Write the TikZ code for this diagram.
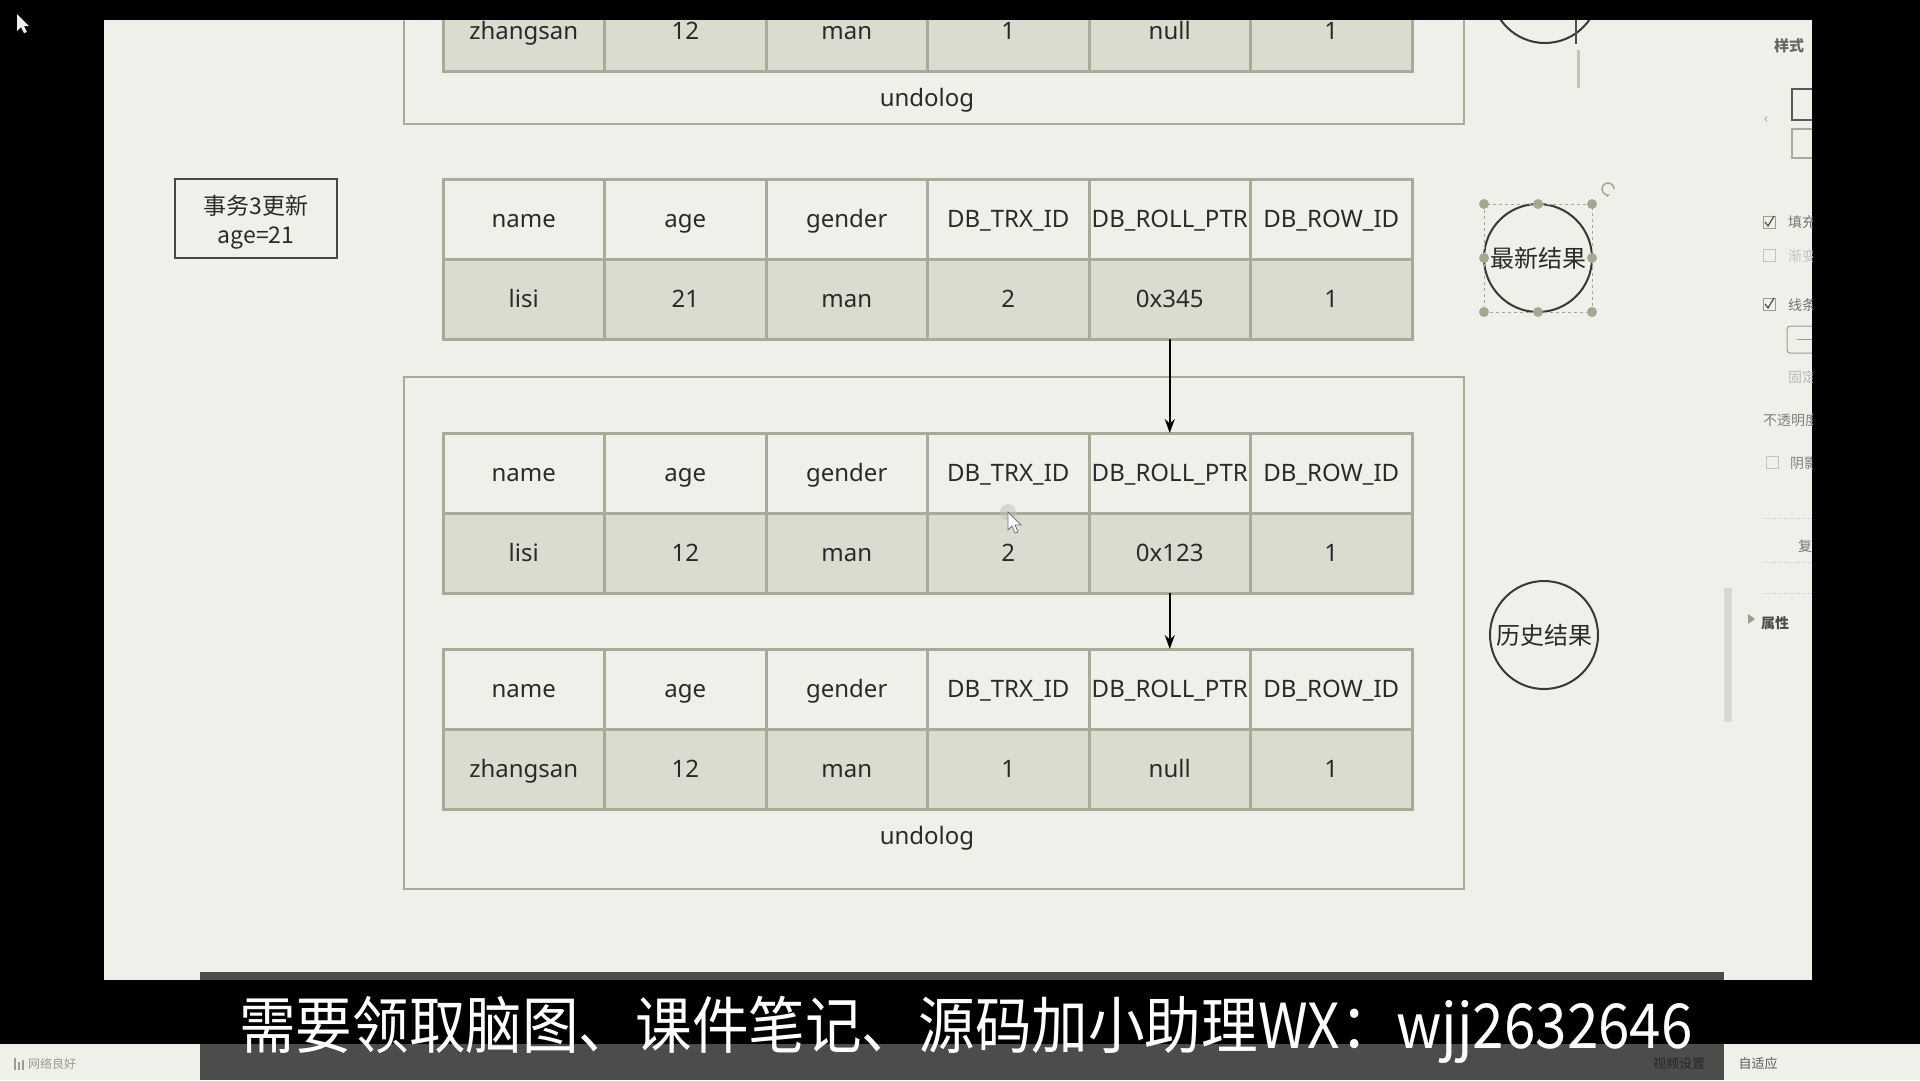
\documentclass[tikz,border=0pt]{standalone}
\usepackage{fontspec}
\setmainfont{Noto Sans}
\newfontfamily\cjk{Noto Sans CJK SC}
\usetikzlibrary{arrows.meta,shapes.geometric}
\definecolor{canvas}{HTML}{EEF1EA}
\definecolor{gridc}{HTML}{A7AB97}
\definecolor{datc}{HTML}{DADCD0}
\definecolor{txtc}{HTML}{2A2A2A}
\definecolor{handlec}{HTML}{A3A892}
\definecolor{uic}{HTML}{9A9E8C}
\begin{document}
\begin{tikzpicture}[x=1pt,y=-1pt,
  cell/.style={draw=gridc, line width=3pt, minimum width=161.5pt, minimum height=80pt,
    inner sep=0pt, outer sep=0pt, text=txtc, font=\fontsize{24}{28}\selectfont,
    text height=17pt, text depth=0pt},
  hd/.style={cell, fill=canvas},
  dt/.style={cell, fill=datc},
  logbox/.style={draw=gridc, line width=2.5pt, inner sep=0pt, outer sep=0pt},
  loglabel/.style={text=txtc, font=\fontsize{24}{28}\selectfont, text height=17pt, text depth=0pt},
  ring/.style={circle, draw=black!78, line width=2pt, minimum size=108pt, inner sep=0pt,
    text=txtc, font=\cjk\fontsize{24}{28}\selectfont},
  link/.style={-{Stealth[length=14pt,width=10pt]}, line width=2pt, black},
  uitext/.style={text=uic, font=\cjk\fontsize{14}{16}\selectfont, anchor=west, inner sep=0pt},
  chk/.style={draw=uic, line width=1pt, fill=canvas}
]
\useasboundingbox (0,0) rectangle (1920,1080);
% screen background
\fill[black] (0,0) rectangle (1920,1080);
\fill[canvas] (104,20) rectangle (1812,980);
\fill[canvas] (0,1044) rectangle (1920,1080);

\begin{scope}
\clip (104,20) rectangle (1812,980);
% top (scrolled) undolog box
\draw[logbox] (404,-300) rectangle (1464,124);
\foreach \t [count=\i] in {zhangsan,12,man,1,null,1}
  \node[dt] (a\i) at ({443+161.5*(\i-0.5)},31) {\t};
\node[loglabel] (toplab) at (927,98) {undolog};
% partial circle at top right
\draw[black!78, line width=2pt] (1545,-11) circle (54pt);
\draw[black!70, line width=2.5pt] (1576,20) -- (1576,44);
\draw[gridc!70, line width=3pt] (1578,50) -- (1578,88);
% right UI panel fragments
\node[uitext, text=black!60, font=\cjk\bfseries\fontsize{15}{16}\selectfont] (ui1) at (1774,46) {样式};
\draw[black!65, line width=2pt] (1792,89) rectangle (1830,120);
\draw[gridc, line width=2pt] (1792,129) rectangle (1830,158);
\node[uitext] (ui2) at (1764,120) {‹};
\draw[chk] (1763,216) rectangle (1775,228);
\draw[black!70, line width=1.2pt] (1765,222) -- (1768,226) -- (1774,216);
\node[uitext, text=black!55] (ui3) at (1788,222) {填充};
\draw[chk, draw=uic!60] (1763,249) rectangle (1775,261);
\node[uitext, text=uic!60] (ui4) at (1788,256) {渐变};
\draw[chk] (1763,298) rectangle (1775,310);
\draw[black!70, line width=1.2pt] (1765,304) -- (1768,308) -- (1774,298);
\node[uitext, text=black!55] (ui5) at (1788,305) {线条};
\draw[uic, line width=1pt, rounded corners=3pt] (1787,326) rectangle (1830,353);
\draw[uic, line width=1pt] (1797,339) -- (1812,339);
\node[uitext, text=uic!70] (ui6) at (1788,377) {固定};
\node[uitext, text=black!50] (ui7) at (1763,420) {不透明度};
\draw[chk, draw=uic!60] (1766,456) rectangle (1778,468);
\node[uitext, text=black!50] (ui8) at (1790,463) {阴影};
\draw[uic!70, dotted, line width=1pt] (1763,518) -- (1830,518);
\draw[uic!70, dotted, line width=1pt] (1763,562) -- (1830,562);
\draw[uic!70, dotted, line width=1pt] (1763,593) -- (1830,593);
\node[uitext, text=black!55] (ui9) at (1798,546) {复};
\fill[uic] (1748,614) -- (1755,619) -- (1748,624) -- cycle;
\node[uitext, text=black!70, font=\cjk\bfseries\fontsize{14}{16}\selectfont] (ui10) at (1761,623) {属性};
\fill[gridc!45] (1724,588) rectangle (1732,722);
\end{scope}

% current record
\foreach \t [count=\i] in {name,age,gender,DB\_TRX\_ID,DB\_ROLL\_PTR,DB\_ROW\_ID}
  \node[hd] (bh\i) at ({443+161.5*(\i-0.5)},219) {\t};
\foreach \t [count=\i] in {lisi,21,man,2,0x345,1}
  \node[dt] (bd\i) at ({443+161.5*(\i-0.5)},299) {\t};

% transaction note
\node[draw=black!72, line width=2.5pt, fill=canvas, minimum width=162pt, minimum height=79pt,
  inner sep=0pt, align=center, text=txtc, font=\cjk\fontsize{23}{29}\selectfont,
  text height=54pt, text depth=5pt] (tx) at (256,218.5)
  {事务3更新\\age=21};

% undolog box
\node[logbox, minimum width=1060pt, minimum height=512pt] (undo) at (934,633) {};
\foreach \t [count=\i] in {name,age,gender,DB\_TRX\_ID,DB\_ROLL\_PTR,DB\_ROW\_ID}
  \node[hd] (ch\i) at ({443+161.5*(\i-0.5)},473) {\t};
\foreach \t [count=\i] in {lisi,12,man,2,0x123,1}
  \node[dt] (cd\i) at ({443+161.5*(\i-0.5)},553) {\t};
\foreach \t [count=\i] in {name,age,gender,DB\_TRX\_ID,DB\_ROLL\_PTR,DB\_ROW\_ID}
  \node[hd] (dh\i) at ({443+161.5*(\i-0.5)},689) {\t};
\foreach \t [count=\i] in {zhangsan,12,man,1,null,1}
  \node[dt] (dd\i) at ({443+161.5*(\i-0.5)},769) {\t};
\node[loglabel] (undolab) at (927,836) {undolog};

% pointers
\draw[link] (bd5.south) -- (ch5.north);
\draw[link] (cd5.south) -- (dh5.north);

% circles
\node[ring] (newest) at (1538,258) {最新结果};
\node[ring] (history) at (1544,635) {历史结果};

% selection handles around newest
\draw[handlec, dashed, line width=1pt] (1484,204) rectangle (1592,312);
\foreach \hx/\hy in {1484/204,1538/204,1592/204,1484/258,1592/258,1484/312,1538/312,1592/312}
  \fill[handlec] (\hx,\hy) circle (5pt);
\draw[handlec, line width=1.5pt, -{Stealth[length=4pt]}] (1614,189) arc[start angle=0, end angle=290, radius=6pt];

% mouse cursors
\fill[black!25, opacity=0.5] (1008,512) circle (8pt);
\draw[black!55, fill=white, line width=0.8pt] (1008,512) -- (1008,530) -- (1012,526) -- (1015,533) -- (1018,532) -- (1015,525) -- (1021,525) -- cycle;
\fill[canvas] (17,14) -- (17,31) -- (21,27) -- (24,33) -- (27,32) -- (24,26) -- (29,26) -- cycle;

% bottom bar
\node[text=uic, font=\cjk\fontsize{12}{13}\selectfont, anchor=west, inner sep=0pt] (net) at (28,1064) {网络良好};
\fill[uic] (14,1058) rectangle (16,1070);
\fill[uic] (18,1062) rectangle (20,1070);
\fill[uic] (22,1060) rectangle (24,1070);
\fill[black, opacity=0.68] (200,972) rectangle (1724,1080);
\node[text=white, font=\cjk\fontsize{62}{64}\selectfont, xscale=0.913] (sub) at (966,1030)
  {需要领取脑图、课件笔记、源码加小助理WX：wjj2632646};
\node[text=black!85, font=\cjk\fontsize{13}{14}\selectfont] (vset) at (1679,1064) {视频设置};
\node[text=black!65, font=\cjk\fontsize{13}{14}\selectfont] (fit) at (1758,1064) {自适应};
\end{tikzpicture}
\end{document}
